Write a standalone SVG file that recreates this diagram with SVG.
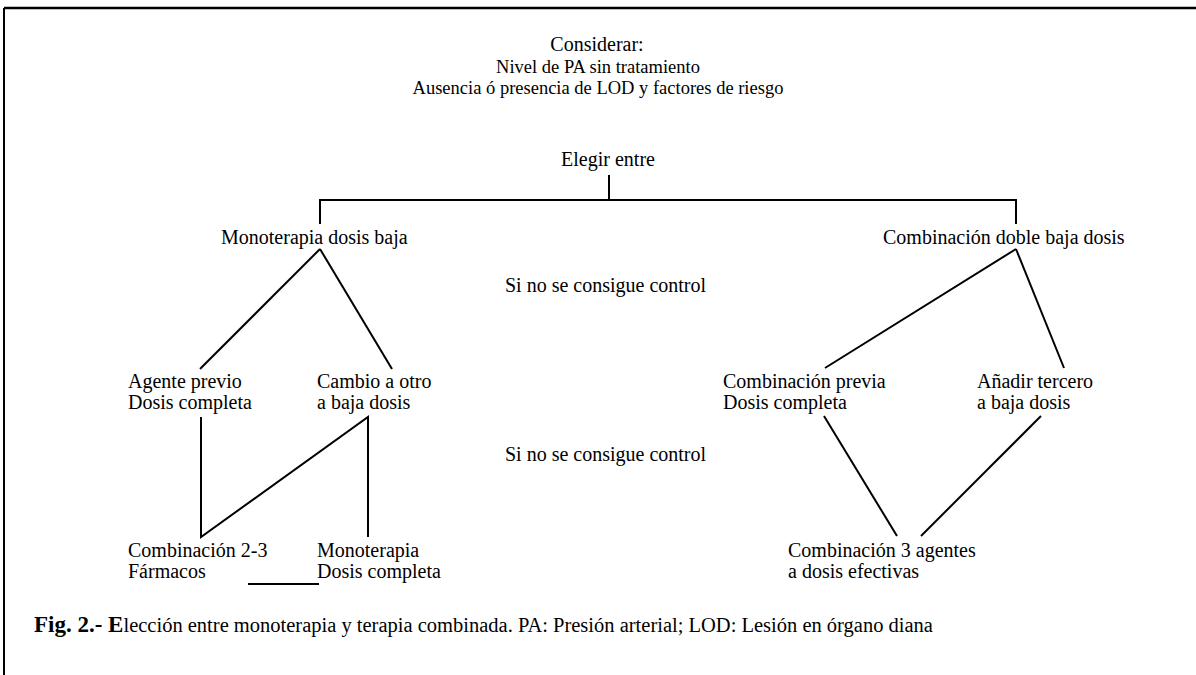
<svg xmlns="http://www.w3.org/2000/svg" width="1196" height="675" viewBox="0 0 1196 675">
<style>
text{font-family:"Liberation Serif","Times New Roman",serif;font-size:20px;fill:#000}
.c{text-anchor:middle}
.t{font-size:18.5px}
.ln{stroke:#000;stroke-width:2;fill:none}
.cap{font-size:20.5px}
.capb{font-size:23px;font-weight:bold}
</style>
<rect width="1196" height="675" fill="#fff"/>
<g id="frame">
<line x1="4" y1="8" x2="1196" y2="8" stroke="#000" stroke-width="2.5"/>
<line x1="4" y1="8" x2="4" y2="675" stroke="#000" stroke-width="2"/>
</g>
<g id="connectors">
<polyline class="ln" points="609,175 609,200"/>
<polyline class="ln" points="320,224 320,200 1016,200 1016,224"/>
<line class="ln" x1="320" y1="249" x2="200" y2="369"/>
<line class="ln" x1="320" y1="249" x2="392" y2="369"/>
<line class="ln" x1="1016" y1="249" x2="825" y2="368"/>
<line class="ln" x1="1016" y1="249" x2="1064" y2="368"/>
<polyline class="ln" points="201,417 201,537 368,417 368,537"/>
<line class="ln" x1="824" y1="416" x2="897" y2="536"/>
<line class="ln" x1="1041" y1="416" x2="921" y2="536"/>
<line class="ln" x1="248" y1="584" x2="319" y2="584"/>
</g>
<g id="n-considerar">
<text class="c" x="597" y="51">Considerar:</text>
<text class="c t" x="598" y="73">Nivel de PA sin tratamiento</text>
<text class="c t" x="598" y="94">Ausencia ó presencia de LOD y factores de riesgo</text>
</g>
<g id="n-elegir"><text class="c" x="608" y="166">Elegir entre</text></g>
<g id="n-mono"><text x="221" y="244">Monoterapia dosis baja</text></g>
<g id="n-comb"><text x="883" y="244">Combinación doble baja dosis</text></g>
<g id="n-sino1"><text x="505" y="292">Si no se consigue control</text></g>
<g id="n-agente"><text x="128" y="388">Agente previo</text><text x="128" y="409">Dosis completa</text></g>
<g id="n-cambio"><text x="317" y="388">Cambio a otro</text><text x="317" y="409">a baja dosis</text></g>
<g id="n-combprev"><text x="723" y="388">Combinación previa</text><text x="723" y="409">Dosis completa</text></g>
<g id="n-anadir"><text x="977" y="388">Añadir tercero</text><text x="977" y="409">a baja dosis</text></g>
<g id="n-sino2"><text x="505" y="461">Si no se consigue control</text></g>
<g id="n-comb23"><text x="128" y="557">Combinación 2-3</text><text x="128" y="578">Fármacos</text></g>
<g id="n-monocomp"><text x="317" y="557">Monoterapia</text><text x="317" y="578">Dosis completa</text></g>
<g id="n-comb3"><text x="788" y="557">Combinación 3 agentes</text><text x="788" y="578">a dosis efectivas</text></g>
<g id="caption"><text x="34" y="632"><tspan class="capb">Fig. 2.- E</tspan><tspan class="cap">lección entre monoterapia y terapia combinada. PA: Presión arterial; LOD: Lesión en órgano diana</tspan></text></g>
</svg>
